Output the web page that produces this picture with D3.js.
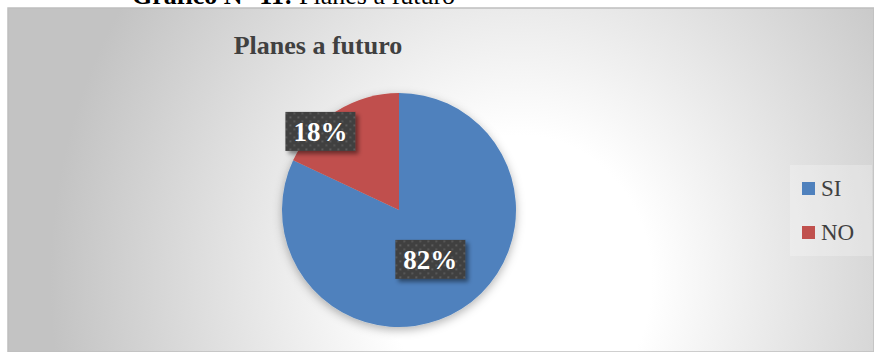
<!DOCTYPE html>
<html>
<head>
<meta charset="utf-8">
<script src="https://cdn.jsdelivr.net/npm/d3@7"></script>
<style>
  html, body { margin: 0; padding: 0; background: #ffffff; }
  svg { display: block; }
</style>
</head>
<body>
<svg id="chart" width="874" height="352"></svg>
<script>
// Survey answers: "future plans"
const categories = ["SI", "NO"];
const values = [82, 18];
const labels = ["82%", "18%"];
const colors = ["#4F81BD", "#C0504D"];

const W = 874, H = 352;
const svg = d3.select("#chart");
const defs = svg.append("defs");

// chart area background: soft radial fade from white to grey
const grad = defs.append("radialGradient")
  .attr("id", "bg")
  .attr("gradientUnits", "userSpaceOnUse")
  .attr("cx", 520).attr("cy", 280).attr("r", 470)
  .attr("gradientTransform", "translate(520,280) scale(1,1.1) translate(-520,-280)");
grad.append("stop").attr("offset", 0).attr("stop-color", "#ffffff");
grad.append("stop").attr("offset", 0.28).attr("stop-color", "#ffffff");
grad.append("stop").attr("offset", 1).attr("stop-color", "#c3c3c3");

// soft shadow under the pie
const pieShadow = defs.append("filter").attr("id", "pieShadow")
  .attr("x", "-20%").attr("y", "-20%").attr("width", "140%").attr("height", "140%");
pieShadow.append("feDropShadow")
  .attr("dx", 0).attr("dy", 3).attr("stdDeviation", 5)
  .attr("flood-color", "#000").attr("flood-opacity", 0.3);

// shadow for the value boxes
const boxShadow = defs.append("filter").attr("id", "boxShadow")
  .attr("x", "-20%").attr("y", "-30%").attr("width", "150%").attr("height", "170%");
boxShadow.append("feDropShadow")
  .attr("dx", 3).attr("dy", 3).attr("stdDeviation", 2)
  .attr("flood-color", "#000").attr("flood-opacity", 0.45);

// dotted texture for the value boxes
const pat = defs.append("pattern").attr("id", "dots")
  .attr("patternUnits", "userSpaceOnUse")
  .attr("width", 8).attr("height", 8);
pat.append("rect").attr("width", 8).attr("height", 8).attr("fill", "#404040");
pat.append("rect").attr("x", 1).attr("y", 1).attr("width", 2).attr("height", 2).attr("fill", "#5c5c5c");
pat.append("rect").attr("x", 5).attr("y", 5).attr("width", 2).attr("height", 2).attr("fill", "#575757");

// figure caption above the chart (partly outside the page)
const cap = svg.append("text")
  .attr("x", 132).attr("y", 4)
  .attr("font-family", "'Liberation Serif', 'Times New Roman', serif")
  .attr("font-size", 26).attr("fill", "#000");
cap.append("tspan").attr("font-weight", "bold").text("Gráfico N° 11:");
cap.append("tspan").text(" Planes a futuro");

// chart area
svg.append("rect")
  .attr("x", 8).attr("y", 8).attr("width", W - 8).attr("height", H - 8)
  .attr("fill", "url(#bg)")
  .attr("stroke", "#bfbfbf").attr("stroke-width", 1.5);

// title
svg.append("text")
  .attr("x", 318).attr("y", 54)
  .attr("text-anchor", "middle")
  .attr("font-family", "'Liberation Serif', 'Times New Roman', serif")
  .attr("font-weight", "bold").attr("font-size", 26)
  .attr("fill", "#404040")
  .text("Planes a futuro");

// pie
const cx = 399, cy = 210, R = 117;
const pie = d3.pie().sort(null).value(d => d.value);
const data = categories.map((c, i) => ({ cat: c, value: values[i], label: labels[i], color: colors[i] }));
const arcs = pie(data);
const arc = d3.arc().innerRadius(0).outerRadius(R);

const g = svg.append("g").attr("transform", `translate(${cx},${cy})`);
g.append("g").attr("filter", "url(#pieShadow)")
  .selectAll("path").data(arcs).join("path")
  .attr("d", arc)
  .attr("fill", d => d.data.color);

// label placement: large slice sits at mid radius, small slice pushed out past its edge
const labelPos = d => {
  const share = d.data.value / d3.sum(values);
  if (share > 0.5) {
    return d3.arc().innerRadius(R * 0.5).outerRadius(R * 0.5).centroid(d);
  }
  const a = (d.startAngle + d.endAngle) / 2 - 0.22;
  const r = R * 0.95;
  return [Math.sin(a) * r, -Math.cos(a) * r];
};

const boxW = 70, boxH = 39;
const lab = g.selectAll("g.lab").data(arcs).join("g")
  .attr("class", "lab")
  .attr("transform", d => { const p = labelPos(d); return `translate(${p[0]},${p[1]})`; });
lab.append("rect")
  .attr("x", -boxW / 2).attr("y", -boxH / 2)
  .attr("width", boxW).attr("height", boxH)
  .attr("fill", "url(#dots)")
  .attr("filter", "url(#boxShadow)");
lab.append("text")
  .attr("text-anchor", "middle")
  .attr("y", 9.5)
  .attr("font-family", "'Liberation Serif', 'Times New Roman', serif")
  .attr("font-weight", "bold").attr("font-size", 27)
  .attr("fill", "#ffffff")
  .text(d => d.data.label);

// legend
const lg = svg.append("g");
lg.append("rect")
  .attr("x", 790).attr("y", 165).attr("width", 82).attr("height", 91)
  .attr("fill", "#ffffff").attr("fill-opacity", 0.25);
const items = lg.selectAll("g.item").data(data).join("g")
  .attr("class", "item")
  .attr("transform", (d, i) => `translate(802,${182 + i * 44})`);
items.append("rect")
  .attr("x", 0).attr("y", 0).attr("width", 13).attr("height", 13)
  .attr("fill", d => d.color);
items.append("text")
  .attr("x", 19).attr("y", 14)
  .attr("font-family", "'Liberation Serif', 'Times New Roman', serif")
  .attr("font-size", 23).attr("fill", "#404040")
  .text(d => d.cat);
</script>
</body>
</html>
